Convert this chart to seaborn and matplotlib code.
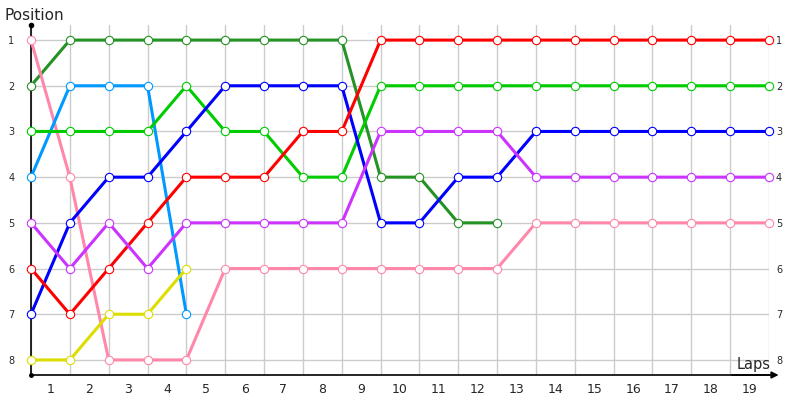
import numpy as np
import pandas as pd
import matplotlib
matplotlib.use("Agg")
import matplotlib.pyplot as plt
import seaborn as sns

sns.set_style("white")
plt.rcParams['font.family'] = ['DejaVu Sans']

nan = np.nan
laps = list(range(20))
lap_labels = [str(i) for i in range(1, 20)]
positions = [1, 2, 3, 4, 5, 6, 7, 8]

dark_green = [2, 1, 1, 1, 1, 1, 1, 1, 1, 4, 4, 5, 5, nan, nan, nan, nan, nan, nan, nan]
pink = [1, 4, 8, 8, 8, 6, 6, 6, 6, 6, 6, 6, 6, 5, 5, 5, 5, 5, 5, 5]
light_blue = [4, 2, 2, 2, 7, nan, nan, nan, nan, nan, nan, nan, nan, nan, nan, nan, nan, nan, nan, nan]
green = [3, 3, 3, 3, 2, 3, 3, 4, 4, 2, 2, 2, 2, 2, 2, 2, 2, 2, 2, 2]
blue = [7, 5, 4, 4, 3, 2, 2, 2, 2, 5, 5, 4, 4, 3, 3, 3, 3, 3, 3, 3]
red = [6, 7, 6, 5, 4, 4, 4, 3, 3, 1, 1, 1, 1, 1, 1, 1, 1, 1, 1, 1]
purple = [5, 6, 5, 6, 5, 5, 5, 5, 5, 3, 3, 3, 3, 4, 4, 4, 4, 4, 4, 4]
yellow = [8, 8, 7, 7, 6, nan, nan, nan, nan, nan, nan, nan, nan, nan, nan, nan, nan, nan, nan, nan]

series = [
    (dark_green, "#259225"),
    (pink, "#FF88AA"),
    (light_blue, "#0099FF"),
    (green, "#00CC00"),
    (blue, "#0000FF"),
    (red, "#FF0000"),
    (purple, "#CC33FF"),
    (yellow, "#DDDD00"),
]

fig = plt.figure(figsize=(8, 4), dpi=100)
ax = fig.add_axes([31 / 800, 25 / 400, (769 - 31) / 800, 350 / 400])

for vals, col in series:
    df = pd.DataFrame({"lap": laps, "pos": vals}).dropna()
    sns.lineplot(data=df, x="lap", y="pos", ax=ax, color=col, lw=2.2,
                 marker="o", markersize=6, markerfacecolor="white",
                 markeredgecolor=col, markeredgewidth=0.8, clip_on=False,
                 zorder=3, sort=False)

ax.set_xlim(0, 19)
ax.set_ylim(8.33, 0.67)

ax.set_xticks(laps)
ax.set_xticklabels([])
ax.set_xticks([i + 0.5 for i in range(19)], minor=True)
ax.set_xticklabels(lap_labels, minor=True, fontsize=9)
ax.set_yticks(positions)
ax.set_yticklabels([str(p) for p in positions], fontsize=7)
ax.tick_params(axis="x", which="both", length=0, pad=6)
ax.tick_params(axis="y", which="both", length=0, pad=12)

sec = ax.secondary_yaxis("right")
sec.set_yticks(positions)
sec.set_yticklabels([str(p) for p in positions], fontsize=7)
sec.tick_params(length=0, pad=5)
sec.spines["right"].set_visible(False)

ax.grid(True, which="major", color="#CCCCCC", lw=1)
ax.set_axisbelow(True)
for s in ["top", "right"]:
    ax.spines[s].set_visible(False)
ax.spines["left"].set_color("black")
ax.spines["bottom"].set_color("black")
ax.spines["left"].set_linewidth(1.2)
ax.spines["bottom"].set_linewidth(1.2)

ax.set_xlabel("")
ax.set_ylabel("")

# axis decorations
ax.annotate("", xy=(1.013, 0), xytext=(0.95, 0), xycoords="axes fraction",
            arrowprops=dict(arrowstyle="-|>", color="black", lw=1.2,
                            mutation_scale=10, shrinkA=0, shrinkB=0))
ax.plot([0], [1], marker="o", color="black", markersize=3,
        transform=ax.transAxes, clip_on=False)
ax.plot([0], [0], marker="o", color="black", markersize=2.5,
        transform=ax.transAxes, clip_on=False)

fig.text(4 / 800, 1 - 16 / 400, "Position", fontsize=11, va="center", ha="left")
fig.text(771 / 800, 1 - 369 / 400, "Laps", fontsize=10.5, va="baseline", ha="right")

fig.savefig("out.png", dpi=100)
